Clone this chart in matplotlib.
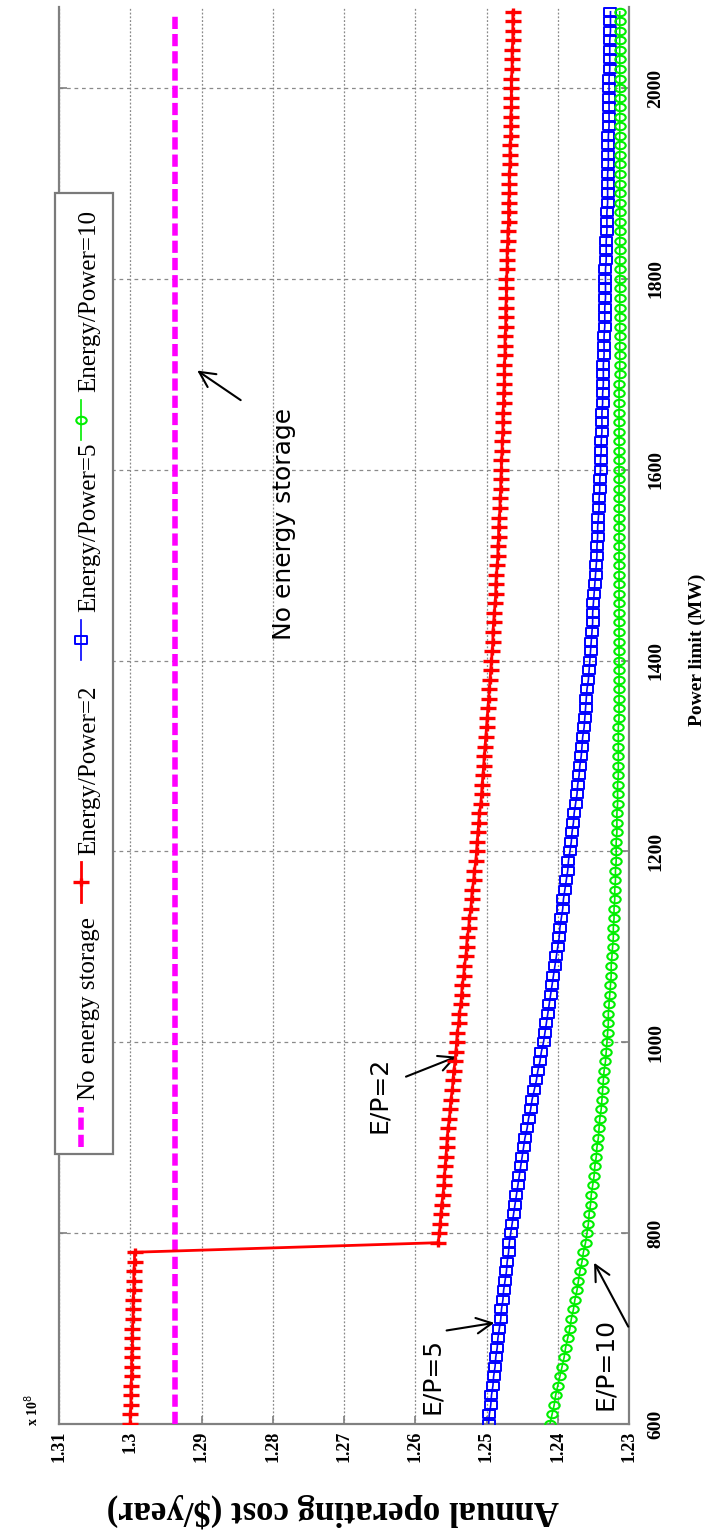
import numpy as np
import matplotlib
matplotlib.use("Agg")
import matplotlib.pyplot as plt
from matplotlib.path import Path
from matplotlib.transforms import Affine2D
from matplotlib.lines import Line2D
from matplotlib.patches import Rectangle

# ---------------- data (cost in units of 1e8 $/year) ----------------
power_mw = list(range(600, 2081, 10))

no_storage_power = [600, 2080]
no_storage_cost = [1.2937, 1.2937]

cost_ep2 = [
    1.3000, 1.3000, 1.2999, 1.2999, 1.2999, 1.2998, 1.2998, 1.2998, 1.2997, 1.2997,
    1.2997, 1.2996, 1.2996, 1.2996, 1.2995, 1.2995, 1.2995, 1.2994, 1.2994, 1.2568,
    1.2566, 1.2565, 1.2564, 1.2563, 1.2561, 1.2560, 1.2559, 1.2558, 1.2557, 1.2556,
    1.2555, 1.2554, 1.2552, 1.2551, 1.2550, 1.2548, 1.2547, 1.2546, 1.2544, 1.2543,
    1.2542, 1.2541, 1.2539, 1.2538, 1.2536, 1.2535, 1.2534, 1.2532, 1.2531, 1.2529,
    1.2528, 1.2527, 1.2525, 1.2524, 1.2522, 1.2521, 1.2520, 1.2518, 1.2517, 1.2515,
    1.2514, 1.2513, 1.2512, 1.2511, 1.2510, 1.2508, 1.2507, 1.2506, 1.2505, 1.2504,
    1.2503, 1.2502, 1.2501, 1.2500, 1.2499, 1.2498, 1.2497, 1.2496, 1.2495, 1.2494,
    1.2493, 1.2492, 1.2491, 1.2491, 1.2490, 1.2489, 1.2488, 1.2487, 1.2487, 1.2486,
    1.2485, 1.2484, 1.2484, 1.2483, 1.2483, 1.2482, 1.2481, 1.2481, 1.2480, 1.2480,
    1.2479, 1.2479, 1.2478, 1.2478, 1.2477, 1.2477, 1.2477, 1.2476, 1.2476, 1.2475,
    1.2475, 1.2475, 1.2474, 1.2474, 1.2474, 1.2473, 1.2473, 1.2473, 1.2472, 1.2472,
    1.2472, 1.2471, 1.2471, 1.2471, 1.2470, 1.2470, 1.2469, 1.2469, 1.2469, 1.2468,
    1.2468, 1.2468, 1.2467, 1.2467, 1.2467, 1.2466, 1.2466, 1.2466, 1.2465, 1.2465,
    1.2465, 1.2465, 1.2464, 1.2464, 1.2464, 1.2463, 1.2463, 1.2463, 1.2463,
]

cost_ep5 = [
    1.2497, 1.2496, 1.2494, 1.2493, 1.2491, 1.2490, 1.2488, 1.2487, 1.2485, 1.2484,
    1.2482, 1.2480, 1.2479, 1.2477, 1.2476, 1.2474, 1.2472, 1.2471, 1.2469, 1.2468,
    1.2466, 1.2464, 1.2462, 1.2460, 1.2458, 1.2456, 1.2454, 1.2452, 1.2450, 1.2448,
    1.2446, 1.2443, 1.2441, 1.2438, 1.2436, 1.2433, 1.2430, 1.2428, 1.2425, 1.2423,
    1.2420, 1.2418, 1.2416, 1.2414, 1.2412, 1.2410, 1.2408, 1.2406, 1.2404, 1.2402,
    1.2400, 1.2398, 1.2397, 1.2395, 1.2393, 1.2392, 1.2390, 1.2388, 1.2386, 1.2385,
    1.2383, 1.2381, 1.2380, 1.2378, 1.2377, 1.2375, 1.2373, 1.2372, 1.2370, 1.2369,
    1.2367, 1.2366, 1.2365, 1.2363, 1.2362, 1.2361, 1.2360, 1.2359, 1.2357, 1.2356,
    1.2355, 1.2354, 1.2353, 1.2352, 1.2351, 1.2351, 1.2350, 1.2349, 1.2348, 1.2347,
    1.2346, 1.2345, 1.2345, 1.2344, 1.2344, 1.2343, 1.2342, 1.2342, 1.2341, 1.2341,
    1.2340, 1.2340, 1.2339, 1.2339, 1.2338, 1.2338, 1.2338, 1.2337, 1.2337, 1.2336,
    1.2336, 1.2336, 1.2335, 1.2335, 1.2335, 1.2334, 1.2334, 1.2334, 1.2333, 1.2333,
    1.2333, 1.2333, 1.2332, 1.2332, 1.2332, 1.2331, 1.2331, 1.2331, 1.2330, 1.2330,
    1.2330, 1.2330, 1.2329, 1.2329, 1.2329, 1.2329, 1.2328, 1.2328, 1.2328, 1.2328,
    1.2328, 1.2328, 1.2327, 1.2327, 1.2327, 1.2327, 1.2326, 1.2326, 1.2326,
]

cost_ep10 = [
    1.2411, 1.2408, 1.2405, 1.2403, 1.2400, 1.2397, 1.2394, 1.2391, 1.2389, 1.2386,
    1.2383, 1.2381, 1.2378, 1.2376, 1.2373, 1.2371, 1.2369, 1.2366, 1.2364, 1.2361,
    1.2359, 1.2357, 1.2356, 1.2354, 1.2353, 1.2351, 1.2349, 1.2348, 1.2346, 1.2345,
    1.2343, 1.2342, 1.2341, 1.2339, 1.2338, 1.2337, 1.2336, 1.2335, 1.2333, 1.2332,
    1.2331, 1.2330, 1.2329, 1.2329, 1.2328, 1.2327, 1.2326, 1.2325, 1.2325, 1.2324,
    1.2323, 1.2322, 1.2322, 1.2321, 1.2321, 1.2320, 1.2320, 1.2319, 1.2319, 1.2318,
    1.2318, 1.2318, 1.2317, 1.2317, 1.2317, 1.2316, 1.2316, 1.2316, 1.2315, 1.2315,
    1.2315, 1.2315, 1.2315, 1.2315, 1.2314, 1.2314, 1.2314, 1.2314, 1.2314, 1.2314,
    1.2314, 1.2314, 1.2314, 1.2314, 1.2314, 1.2314, 1.2314, 1.2314, 1.2314, 1.2314,
    1.2314, 1.2314, 1.2314, 1.2314, 1.2314, 1.2314, 1.2314, 1.2314, 1.2314, 1.2314,
    1.2314, 1.2314, 1.2314, 1.2314, 1.2314, 1.2314, 1.2314, 1.2314, 1.2314, 1.2314,
    1.2313, 1.2313, 1.2313, 1.2313, 1.2313, 1.2313, 1.2313, 1.2313, 1.2313, 1.2313,
    1.2313, 1.2313, 1.2313, 1.2313, 1.2313, 1.2313, 1.2313, 1.2313, 1.2313, 1.2313,
    1.2313, 1.2313, 1.2313, 1.2313, 1.2313, 1.2313, 1.2313, 1.2313, 1.2313, 1.2313,
    1.2313, 1.2313, 1.2313, 1.2313, 1.2313, 1.2313, 1.2313, 1.2313, 1.2313,
]

cost_ticks = [1.23, 1.24, 1.25, 1.26, 1.27, 1.28, 1.29, 1.30, 1.31]
cost_tick_labels = ["1.23", "1.24", "1.25", "1.26", "1.27", "1.28", "1.29", "1.3", "1.31"]
power_ticks = [600, 800, 1000, 1200, 1400, 1600, 1800, 2000]
power_tick_labels = ["600", "800", "1000", "1200", "1400", "1600", "1800", "2000"]

legend_labels = ["No energy storage", "Energy/Power=2", "Energy/Power=5", "Energy/Power=10"]

# ---------------- figure ----------------
W, H = 720, 1531
fig = plt.figure(figsize=(W / 100, H / 100), dpi=100)
fig.patch.set_facecolor("white")


def fx(px):
    return px / W


def fy(py):
    return 1 - py / H


ax = fig.add_axes([fx(59), fy(1424), fx(629) - fx(59), fy(7) - fy(1424)])
ax.set_xlim(1.31, 1.23)
ax.set_ylim(600, 2085)

# stretched markers (the picture is stretched horizontally)
plus_marker = Path([(-1.7, 0), (1.7, 0), (0, -1.0), (0, 1.0)],
                   [Path.MOVETO, Path.LINETO, Path.MOVETO, Path.LINETO])
square_marker = Path([(-1.5, -1), (1.5, -1), (1.5, 1), (-1.5, 1), (-1.5, -1)],
                     [Path.MOVETO, Path.LINETO, Path.LINETO, Path.LINETO, Path.CLOSEPOLY])
ellipse_marker = Path.unit_circle().transformed(Affine2D().scale(1.4, 1.0))

mag_style = dict(color="#ff00ff", lw=4, linestyle=(0, (2.2, 0.9)))
red_style = dict(color="#ff0000", lw=2, marker=plus_marker, ms=11, mew=2.4)
blue_style = dict(color="#0000ff", lw=1.2, marker=square_marker, ms=8.5, mew=1.4,
                  mfc="none", mec="#0000ff")
green_style = dict(color="#00ee00", lw=1.2, marker=ellipse_marker, ms=7.5, mew=1.5,
                   mfc="none", mec="#00ee00")

ax.plot(no_storage_cost, no_storage_power, zorder=3, **mag_style)
ax.plot(cost_ep2, power_mw, zorder=4, **red_style)
ax.plot(cost_ep5, power_mw, zorder=4, **blue_style)
ax.plot(cost_ep10, power_mw, zorder=5, **green_style)

# ticks
ax.set_xticks(cost_ticks)
ax.set_xticklabels(cost_tick_labels, rotation=90, va="top", ha="center",
                   family="Liberation Serif", fontsize=13, fontweight="bold")
ax.yaxis.tick_right()
ax.set_yticks(power_ticks)
ax.set_yticklabels(power_tick_labels, rotation=90, va="center", ha="left",
                   family="Liberation Serif", fontsize=14, fontweight="bold")
ax.tick_params(axis="x", direction="in", length=6, width=1.2, color="#808080",
               bottom=True, top=False, pad=5)
ax.tick_params(axis="y", direction="in", length=6, width=1.2, color="#808080",
               left=True, right=True, pad=13)

ax.xaxis.grid(True, color="#8a8a8a", lw=0.9, linestyle=(0, (1.5, 1.5)))
ax.yaxis.grid(True, color="#8a8a8a", lw=0.9, linestyle=(0, (3, 3)))
ax.set_axisbelow(True)

for side in ["left", "right", "bottom"]:
    ax.spines[side].set_color("#808080")
    ax.spines[side].set_linewidth(1.6)
ax.spines["top"].set_visible(False)

# axis labels
fig.text(fx(333), fy(1510), "Annual operating cost ($/year)", rotation=180,
         ha="center", va="center", family="Liberation Serif", fontsize=25,
         fontweight="bold")
fig.text(fx(697), fy(650), "Power limit (MW)", rotation=90, ha="center", va="center",
         family="Liberation Serif", fontsize=14, fontweight="bold")
fig.text(fx(32), fy(1410), r"x 10$^{8}$", rotation=90, ha="center", va="center",
         family="Liberation Serif", fontsize=10, fontweight="bold")

# annotations
ann_font = dict(family="DejaVu Sans", fontsize=18, rotation=90, ha="center", va="center")
arrow = dict(arrowstyle="->", color="black", lw=1.5, mutation_scale=28,
             shrinkA=0, shrinkB=0)

ax.text(1.27845, 1543, "No energy storage", **ann_font)
ax.annotate("", xy=(1.2906, 1704), xytext=(1.2845, 1673), arrowprops=arrow)

ax.text(1.2651, 945, "E/P=2", **ann_font)
ax.annotate("", xy=(1.2542, 985), xytext=(1.2613, 964), arrowprops=arrow)

ax.text(1.2577, 650, "E/P=5", **ann_font)
ax.annotate("", xy=(1.2489, 706), xytext=(1.2556, 698), arrowprops=arrow)

ax.text(1.2334, 663, "E/P=10", **ann_font)
ax.annotate("", xy=(1.2349, 769), xytext=(1.2301, 702), arrowprops=arrow)

# manual rotated legend
box = Rectangle((fx(55), fy(1154)), fx(113) - fx(55), fy(193) - fy(1154),
                transform=fig.transFigure, facecolor="white", edgecolor="#7a7a7a",
                lw=1.6, zorder=10)
fig.add_artist(box)

leg_x = fx(81)
samples = [(1147, 1107), (902, 862), (660, 620), (440, 400)]
text_starts = [1100, 855, 612, 392]
styles = [mag_style, red_style, blue_style, green_style]
for (y0, y1), ts, st, lab in zip(samples, text_starts, styles, legend_labels):
    st_line = {k: v for k, v in st.items() if k not in ("marker", "ms", "mew", "mfc", "mec")}
    fig.add_artist(Line2D([leg_x, leg_x], [fy(y0), fy(y1)], transform=fig.transFigure,
                          zorder=11, **st_line))
    if "marker" in st:
        fig.add_artist(Line2D([leg_x], [fy((y0 + y1) / 2)], transform=fig.transFigure,
                              linestyle="none", zorder=12, marker=st["marker"],
                              ms=st["ms"], mew=st["mew"], mfc=st.get("mfc", st["color"]),
                              mec=st.get("mec", st["color"])))
    fig.text(fx(89), fy(ts), lab, rotation=90, rotation_mode="anchor", ha="left",
             va="center", family="Liberation Serif", fontsize=18, zorder=12)

fig.savefig("out.png", dpi=100)
